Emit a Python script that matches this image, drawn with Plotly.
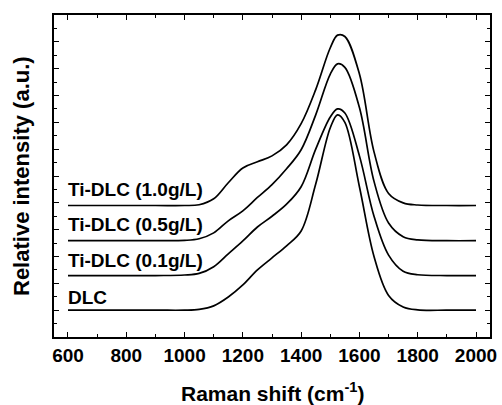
import plotly.graph_objects as go

# Raman shift grid (cm-1)
raman_shift = [600, 900, 1000, 1050, 1100, 1150, 1200, 1250, 1300, 1350, 1400,
               1450, 1500, 1525, 1550, 1600, 1650, 1700, 1750, 1800, 1900, 2000]

# Relative intensity (a.u.), stacked with vertical offsets as in the figure
dlc = [1.0, 1.0, 1.0, 1.03, 1.16, 1.49, 1.94, 2.5, 2.95, 3.4, 3.95,
       5.7, 7.8, 8.28, 8.0, 5.6, 3.0, 1.55, 1.12, 1.01, 1.0, 1.0]
ti_01 = [2.29, 2.29, 2.31, 2.37, 2.62, 3.1, 3.58, 4.1, 4.5, 4.95, 5.6,
         7.0, 8.2, 8.5, 8.35, 6.75, 4.5, 3.05, 2.45, 2.32, 2.29, 2.29]
ti_05 = [3.59, 3.59, 3.6, 3.66, 3.88, 4.33, 4.7, 5.2, 5.68, 6.27, 6.98,
         8.28, 9.8, 10.18, 10.05, 8.55, 5.8, 4.25, 3.74, 3.62, 3.59, 3.59]
ti_10 = [4.9, 4.9, 4.9, 4.93, 5.15, 5.75, 6.3, 6.53, 6.75, 7.16, 7.95,
         9.22, 10.78, 11.25, 11.2, 9.8, 6.9, 5.35, 5.0, 4.92, 4.9, 4.9]

series_names = ["DLC", "Ti-DLC (0.1g/L)", "Ti-DLC (0.5g/L)", "Ti-DLC (1.0g/L)"]
series_values = [dlc, ti_01, ti_05, ti_10]
label_y = [1.46, 2.84, 4.18, 5.49]

x_ticks = [600, 800, 1000, 1200, 1400, 1600, 1800, 2000]

FONT = "Liberation Sans, Arial, Helvetica, sans-serif"

fig = go.Figure()
for name, vals in zip(series_names, series_values):
    fig.add_trace(go.Scatter(
        x=raman_shift, y=vals, mode="lines", name=name,
        line=dict(color="black", width=1.7, shape="spline", smoothing=1.0),
        showlegend=False, hoverinfo="skip"))

for name, ly in zip(series_names, label_y):
    fig.add_annotation(x=600, y=ly, text=name, showarrow=False,
                       xanchor="left", yanchor="middle", xshift=-2,
                       font=dict(family=FONT, size=19, color="black", weight="bold"))

# axis titles as paper-anchored text
fig.add_annotation(xref="paper", yref="paper", x=0.5, y=0, yshift=-40,
                   xanchor="center", yanchor="top", showarrow=False,
                   text="Raman shift (cm<sup>-1</sup>)",
                   font=dict(family=FONT, size=21, color="black", weight="bold"))
fig.add_annotation(xref="paper", yref="paper", x=0, y=0.5, xshift=-33,
                   xanchor="center", yanchor="middle", showarrow=False, textangle=-90,
                   text="Relative intensity (a.u.)",
                   font=dict(family=FONT, size=22, color="black", weight="bold"))

fig.update_layout(
    width=502, height=405,
    margin=dict(l=54, r=12, t=15, b=68),
    paper_bgcolor="white", plot_bgcolor="white",
    font=dict(family=FONT, color="black"),
)

fig.update_xaxes(
    range=[552, 2048], tickvals=x_ticks, ticktext=[str(v) for v in x_ticks],
    ticks="inside", ticklen=5, tickwidth=1.3, tickcolor="black",
    minor=dict(dtick=100, tick0=600, ticks="inside", ticklen=3, tickwidth=1.2, tickcolor="black"),
    showline=True, linewidth=1.8, linecolor="black", mirror="ticks",
    showgrid=False, zeroline=False, automargin=False,
    tickfont=dict(family=FONT, size=19, color="black", weight="bold"),
)

fig.update_yaxes(
    range=[0, 12], dtick=1, tick0=0, showticklabels=False,
    ticks="inside", ticklen=5, tickwidth=1.3, tickcolor="black",
    minor=dict(dtick=0.5, tick0=0, ticks="inside", ticklen=3, tickwidth=1.2, tickcolor="black"),
    showline=True, linewidth=1.8, linecolor="black", mirror="ticks",
    showgrid=False, zeroline=False, automargin=False,
)

fig.write_html("out.html", config={"displayModeBar": False},
               post_script="document.body.style.margin='0';document.body.style.padding='0';")
